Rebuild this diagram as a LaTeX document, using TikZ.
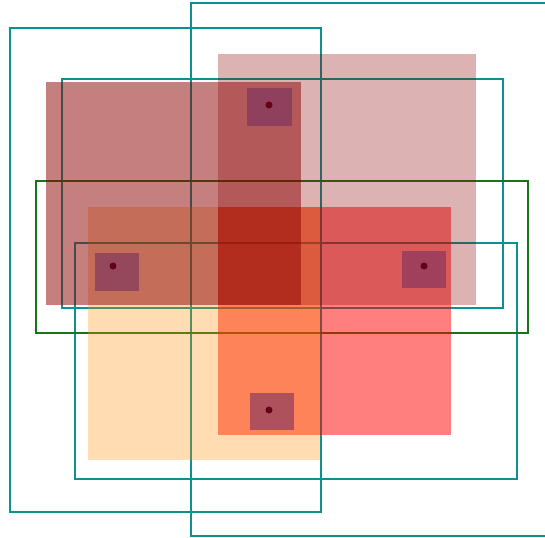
\documentclass[tikz,border=0pt]{standalone}
\usetikzlibrary{calc}
\definecolor{ancteal}{RGB}{10,145,145}
\definecolor{gtgreen}{RGB}{25,115,25}
\definecolor{boxred}{RGB}{139,0,0}
\definecolor{boxorange}{RGB}{255,140,0}
\definecolor{ctrpurple}{RGB}{115,45,95}
\definecolor{ctrdot}{RGB}{100,0,25}

\begin{document}
\begin{tikzpicture}[x=1pt, y=-1pt, line join=miter,
    anc/.style={draw=ancteal, line width=1.9pt},
    gt/.style={draw=gtgreen, line width=1.9pt},
    ctr/.style={fill=ctrpurple, fill opacity=0.57},
    dot/.style={fill=ctrdot}]
  \useasboundingbox (0,0) rectangle (545,537);
  \clip (0,0) rectangle (545,537);
  % outlines first, the fills lie over them
  \draw[anc] (10,28) rectangle (321,512);
  \draw[anc] (191,3) rectangle (560,536);
  \draw[anc] (62,79) rectangle (503,308);
  \draw[anc] (75,243) rectangle (517,479);
  \draw[gt] (36,181) rectangle (528,333);
  % boxes
  \coordinate (D1) at (218,207);
  \coordinate (D2) at (451,435);
  \coordinate (C1) at (88,207);
  \coordinate (C2) at (320,460);
  \coordinate (A1) at (218,54);
  \coordinate (A2) at (476,305);
  \coordinate (B1) at (46,82);
  \coordinate (B2) at (301,305);
  \fill[red, fill opacity=0.5] (D1) rectangle (D2);
  \fill[boxorange, fill opacity=0.3] (C1) rectangle (C2);
  \fill[boxred, fill opacity=0.3] (A1) rectangle (A2);
  \fill[boxred, fill opacity=0.5] (B1) rectangle (B2);
  % centres
  \fill[ctr] (247,88) rectangle (292,126);
  \fill[ctr] (95,253) rectangle (139,291);
  \fill[ctr] (402,251) rectangle (446,288);
  \fill[ctr] (250,393) rectangle (294,430);
  \fill[dot] (269,105) circle (3.5);
  \fill[dot] (113,266) circle (3.5);
  \fill[dot] (424,266) circle (3.5);
  \fill[dot] (269,410) circle (3.5);
\end{tikzpicture}
\end{document}
